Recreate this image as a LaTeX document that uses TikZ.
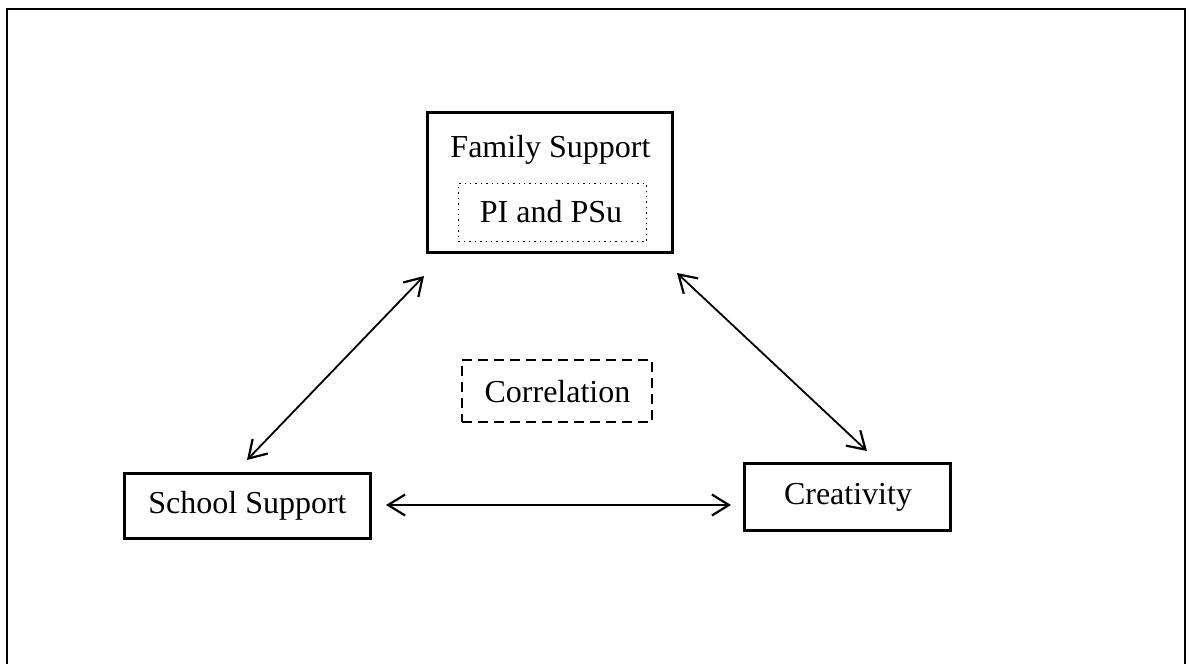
\documentclass[tikz,border=0pt]{standalone}
\usepackage{fontspec}
\setmainfont{Liberation Serif}
\usetikzlibrary{arrows.meta}
\begin{document}
\begin{tikzpicture}[x=0.5pt,y=-0.5pt,
  frame/.style={draw, line width=1pt},
  thickbox/.style={draw, line width=1.7pt, inner sep=0pt},
  dotbox/.style={draw, line width=0.7pt, dotted, inner sep=0pt},
  dashbox/.style={draw, line width=0.8pt, dash pattern=on 5pt off 3pt, inner sep=0pt},
  lbl/.style={anchor=base, inner sep=0pt, font=\fontsize{16}{19}\selectfont},
  barb/.style={Straight Barb[length=8.5pt,width=10.5pt,line width=1.1pt]},
  link/.style={line width=0.9pt, {Straight Barb[length=8.5pt,width=10.5pt,line width=1.1pt]}-{Straight Barb[length=8.5pt,width=10.5pt,line width=1.1pt]}}]
\clip (0,0) rectangle (1190,664);
\useasboundingbox (0,0) rectangle (1190,664);

% open page frame
\draw[frame] (7,690) -- (7,8.5) -- (1184.5,8.5) -- (1184.5,690);

% boxes
\node[thickbox, minimum width=122.5pt, minimum height=70pt] (fam) at (550,182.5) {};
\node[dotbox, minimum width=94pt, minimum height=29pt] (pi) at (552.5,212.5) {};
\node[thickbox, minimum width=123pt, minimum height=32.5pt] (school) at (247.5,506) {};
\node[thickbox, minimum width=103pt, minimum height=33.5pt] (creat) at (847.5,497) {};
\node[dashbox, minimum width=95pt, minimum height=31pt] (corr) at (557,391) {};

% labels
\node[lbl] (famlbl) at (550.5,157) {Family Support};
\node[lbl] (pilbl) at (551,222) {PI and PSu};
\node[lbl] (schoollbl) at (247.5,513) {School Support};
\node[lbl] (creatlbl) at (848,504) {Creativity};
\node[lbl] (corrlbl) at (557.5,402) {Correlation};

% arrow end points
\coordinate (famL) at (424,276);
\coordinate (schoolT) at (247,460);
\coordinate (famR) at (677,273);
\coordinate (creatT) at (867,451);
\coordinate (schoolR) at (386,505);
\coordinate (creatL) at (731,505);

\draw[link] (famL) -- (schoolT);
\draw[link] (famR) -- (creatT);
\draw[link] (schoolR) -- (creatL);
\end{tikzpicture}
\end{document}
